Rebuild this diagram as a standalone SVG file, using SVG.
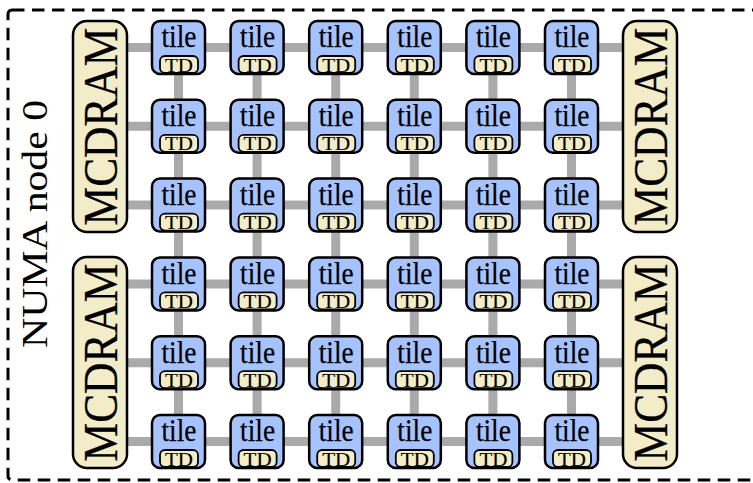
<svg xmlns="http://www.w3.org/2000/svg" width="753" height="483" viewBox="0 0 753 483" font-family="'Liberation Serif', 'Times New Roman', Times, serif">
<style>
.tile{fill:#a6c3ff;stroke:#000;stroke-width:2.5}
.td{fill:#f3ecc8;stroke:#000;stroke-width:1.8}
.mc{fill:#f3ecc8;stroke:#000;stroke-width:2.5}
.link{stroke:#aaaaaa;stroke-width:9;fill:none}
.tt{font-size:31px;text-anchor:middle;stroke:#000;stroke-width:0.25}
.tdt{font-size:19px;text-anchor:middle;stroke:#000;stroke-width:0.15}
.mct{font-size:49px;text-anchor:middle;stroke:#000;stroke-width:0.3}
</style>
<defs>
<g id="tileShape">
<rect class="tile" x="0" y="0" width="53" height="53" rx="8"/>
<rect class="td" x="8" y="35" width="38" height="17" rx="5"/>
<text class="tt" x="27" y="26.3" font-family="Liberation Serif" textLength="35" lengthAdjust="spacingAndGlyphs">tile</text>
<text class="tdt" x="27" y="50.5" font-family="Liberation Serif" textLength="28" lengthAdjust="spacingAndGlyphs">TD</text>
</g>
</defs>
<rect id="numa" x="8" y="10" width="770" height="470" rx="4" fill="none" stroke="#000" stroke-width="3" stroke-dasharray="12.5 7.5"/>
<text transform="translate(47,224) rotate(-90)" font-family="Liberation Serif" font-size="36" text-anchor="middle" textLength="248" lengthAdjust="spacingAndGlyphs">NUMA node 0</text>
<g id="connectors">
<path class="link" d="M127 47.5H623M127 126.3H623M127 205.1H623M127 283.9H623M127 362.7H623M127 441.5H623"/>
<path class="link" d="M178.5 47.5V441.5M257.1 47.5V441.5M335.7 47.5V441.5M414.3 47.5V441.5M492.9 47.5V441.5M571.5 47.5V441.5"/>
</g>
<g id="mcdram-lt"><rect class="mc" x="73" y="21" width="54" height="211" rx="14"/><text class="mct" font-family="Liberation Serif" transform="translate(117,126.5) rotate(-90)" textLength="198" lengthAdjust="spacingAndGlyphs">MCDRAM</text></g>
<g id="mcdram-lb"><rect class="mc" x="73" y="257" width="54" height="211" rx="14"/><text class="mct" font-family="Liberation Serif" transform="translate(117,362.5) rotate(-90)" textLength="198" lengthAdjust="spacingAndGlyphs">MCDRAM</text></g>
<g id="mcdram-rt"><rect class="mc" x="623" y="21" width="54" height="211" rx="14"/><text class="mct" font-family="Liberation Serif" transform="translate(667,126.5) rotate(-90)" textLength="198" lengthAdjust="spacingAndGlyphs">MCDRAM</text></g>
<g id="mcdram-rb"><rect class="mc" x="623" y="257" width="54" height="211" rx="14"/><text class="mct" font-family="Liberation Serif" transform="translate(667,362.5) rotate(-90)" textLength="198" lengthAdjust="spacingAndGlyphs">MCDRAM</text></g>
<g id="tile-0-0"><use href="#tileShape" x="152" y="21"/></g>
<g id="tile-0-1"><use href="#tileShape" x="230.6" y="21"/></g>
<g id="tile-0-2"><use href="#tileShape" x="309.2" y="21"/></g>
<g id="tile-0-3"><use href="#tileShape" x="387.8" y="21"/></g>
<g id="tile-0-4"><use href="#tileShape" x="466.4" y="21"/></g>
<g id="tile-0-5"><use href="#tileShape" x="545" y="21"/></g>
<g id="tile-1-0"><use href="#tileShape" x="152" y="99.8"/></g>
<g id="tile-1-1"><use href="#tileShape" x="230.6" y="99.8"/></g>
<g id="tile-1-2"><use href="#tileShape" x="309.2" y="99.8"/></g>
<g id="tile-1-3"><use href="#tileShape" x="387.8" y="99.8"/></g>
<g id="tile-1-4"><use href="#tileShape" x="466.4" y="99.8"/></g>
<g id="tile-1-5"><use href="#tileShape" x="545" y="99.8"/></g>
<g id="tile-2-0"><use href="#tileShape" x="152" y="178.6"/></g>
<g id="tile-2-1"><use href="#tileShape" x="230.6" y="178.6"/></g>
<g id="tile-2-2"><use href="#tileShape" x="309.2" y="178.6"/></g>
<g id="tile-2-3"><use href="#tileShape" x="387.8" y="178.6"/></g>
<g id="tile-2-4"><use href="#tileShape" x="466.4" y="178.6"/></g>
<g id="tile-2-5"><use href="#tileShape" x="545" y="178.6"/></g>
<g id="tile-3-0"><use href="#tileShape" x="152" y="257.4"/></g>
<g id="tile-3-1"><use href="#tileShape" x="230.6" y="257.4"/></g>
<g id="tile-3-2"><use href="#tileShape" x="309.2" y="257.4"/></g>
<g id="tile-3-3"><use href="#tileShape" x="387.8" y="257.4"/></g>
<g id="tile-3-4"><use href="#tileShape" x="466.4" y="257.4"/></g>
<g id="tile-3-5"><use href="#tileShape" x="545" y="257.4"/></g>
<g id="tile-4-0"><use href="#tileShape" x="152" y="336.2"/></g>
<g id="tile-4-1"><use href="#tileShape" x="230.6" y="336.2"/></g>
<g id="tile-4-2"><use href="#tileShape" x="309.2" y="336.2"/></g>
<g id="tile-4-3"><use href="#tileShape" x="387.8" y="336.2"/></g>
<g id="tile-4-4"><use href="#tileShape" x="466.4" y="336.2"/></g>
<g id="tile-4-5"><use href="#tileShape" x="545" y="336.2"/></g>
<g id="tile-5-0"><use href="#tileShape" x="152" y="415"/></g>
<g id="tile-5-1"><use href="#tileShape" x="230.6" y="415"/></g>
<g id="tile-5-2"><use href="#tileShape" x="309.2" y="415"/></g>
<g id="tile-5-3"><use href="#tileShape" x="387.8" y="415"/></g>
<g id="tile-5-4"><use href="#tileShape" x="466.4" y="415"/></g>
<g id="tile-5-5"><use href="#tileShape" x="545" y="415"/></g>
</svg>
